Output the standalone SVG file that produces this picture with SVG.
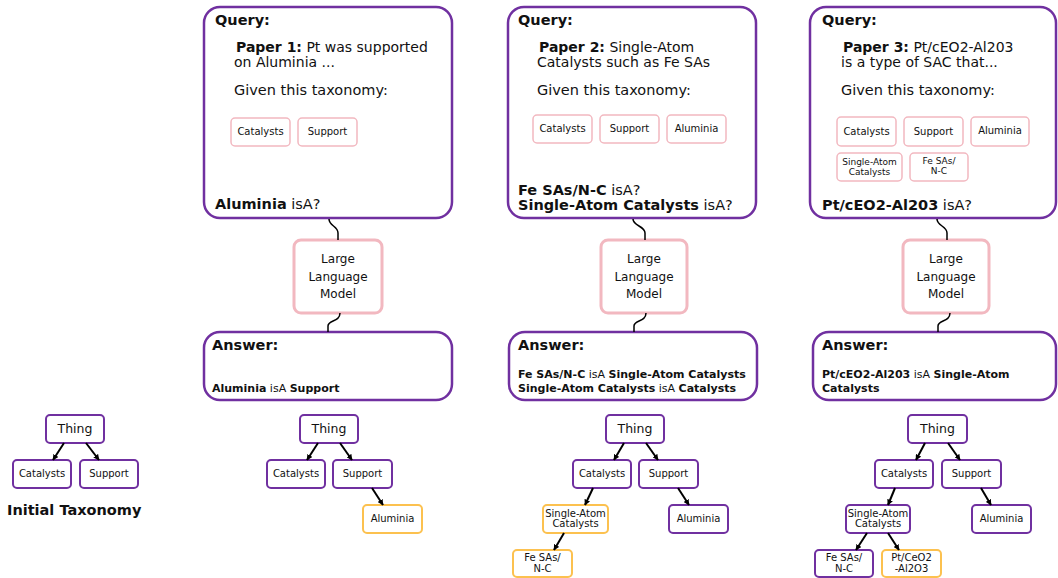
<svg xmlns="http://www.w3.org/2000/svg" width="1058" height="578" viewBox="0 0 1058 578">
<defs>
<marker id="ah" viewBox="0 0 10 10" refX="9" refY="5" markerWidth="6" markerHeight="6" orient="auto" markerUnits="userSpaceOnUse">
<path d="M0,0 L10,5 L0,10 z" fill="#000"/>
</marker>
<style>
text{font-family:"DejaVu Sans","Liberation Sans",sans-serif;fill:#111}
.big{fill:#fff;stroke:#7030a0;stroke-width:2.5}
.llm{fill:#fff;stroke:#f2b8c0;stroke-width:3}
.tag{fill:#fff;stroke:#f2b8c0;stroke-width:1.5}
.tn{fill:#fff;stroke:#7030a0;stroke-width:2}
.tnew{fill:#fff;stroke:#fcc14f;stroke-width:2}
.h{font-size:14.5px;font-weight:bold}
.q{font-size:14.5px}
.p{font-size:14px}
.b{font-weight:bold}
.ans{font-size:11px}
.t10{font-size:10px}
.t9{font-size:9px}
.th{font-size:12.5px}
.mid{text-anchor:middle}
.sq{fill:none;stroke:#000;stroke-width:1.5}
.ar{fill:none;stroke:#000;stroke-width:2;marker-end:url(#ah)}
</style>
</defs>

<!-- Initial taxonomy -->
<g id="init-thing"><rect class="tn" x="46" y="415" width="58" height="28" rx="4"/><text class="th mid" x="75" y="433">Thing</text></g>
<g id="init-catalysts"><rect class="tn" x="13" y="460" width="58" height="28" rx="4"/><text class="t10 mid" x="42" y="477">Catalysts</text></g>
<g id="init-support"><rect class="tn" x="80" y="460" width="58" height="28" rx="4"/><text class="t10 mid" x="109" y="477">Support</text></g>
<g id="init-label"><text class="h" x="7" y="515">Initial Taxonomy</text></g>

<!-- Panel 1 -->
<g id="p1-query">
<rect class="big" x="204" y="7" width="248" height="211" rx="16"/>
<text class="h" x="215" y="25">Query:</text>
<text class="p" x="236" y="52"><tspan class="b">Paper 1:</tspan> Pt was supported</text>
<text class="p" x="234" y="67">on Aluminia ...</text>
<text class="q" x="234" y="95">Given this taxonomy:</text>
<rect class="tag" x="231" y="118" width="59" height="28" rx="4"/><text class="t10 mid" x="260.5" y="135">Catalysts</text>
<rect class="tag" x="298" y="118" width="59" height="28" rx="4"/><text class="t10 mid" x="327.5" y="135">Support</text>
<text class="q" x="215" y="209"><tspan class="b">Aluminia</tspan> isA?</text>
</g>
<g id="p1-llm"><rect class="llm" x="294" y="240" width="88" height="73" rx="7"/>
<text class="mid" font-size="12" x="338" y="263">Large</text>
<text class="mid" font-size="12" x="338" y="281">Language</text>
<text class="mid" font-size="12" x="338" y="298">Model</text></g>
<g id="p1-answer">
<rect class="big" x="204" y="332" width="248" height="68" rx="16"/>
<text class="h" x="212" y="350">Answer:</text>
<text class="ans" x="212" y="392"><tspan class="b">Aluminia</tspan> isA <tspan class="b">Support</tspan></text>
</g>
<g id="p1-thing"><rect class="tn" x="300" y="415" width="58" height="28" rx="4"/><text class="th mid" x="329" y="433">Thing</text></g>
<g id="p1-catalysts"><rect class="tn" x="267" y="460" width="58" height="28" rx="4"/><text class="t10 mid" x="296" y="477">Catalysts</text></g>
<g id="p1-support"><rect class="tn" x="333" y="460" width="59" height="28" rx="4"/><text class="t10 mid" x="362.5" y="477">Support</text></g>
<g id="p1-aluminia"><rect class="tnew" x="363" y="505" width="59" height="28" rx="4"/><text class="t10 mid" x="392.5" y="522">Aluminia</text></g>

<!-- Panel 2 -->
<g id="p2-query">
<rect class="big" x="508" y="7" width="248" height="211" rx="16"/>
<text class="h" x="518" y="25">Query:</text>
<text class="p" x="539" y="52"><tspan class="b">Paper 2:</tspan> Single-Atom</text>
<text class="p" x="537" y="67">Catalysts such as Fe SAs</text>
<text class="q" x="537" y="95">Given this taxonomy:</text>
<rect class="tag" x="533" y="115" width="59" height="28" rx="4"/><text class="t10 mid" x="562.5" y="132">Catalysts</text>
<rect class="tag" x="600" y="115" width="59" height="28" rx="4"/><text class="t10 mid" x="629.5" y="132">Support</text>
<rect class="tag" x="667" y="115" width="59" height="28" rx="4"/><text class="t10 mid" x="696.5" y="132">Aluminia</text>
<text class="q" x="518" y="195"><tspan class="b">Fe SAs/N-C</tspan> isA?</text>
<text class="q" x="518" y="210"><tspan class="b">Single-Atom Catalysts</tspan> isA?</text>
</g>
<g id="p2-llm"><rect class="llm" x="601" y="240" width="86" height="73" rx="7"/>
<text class="mid" font-size="12" x="644" y="263">Large</text>
<text class="mid" font-size="12" x="644" y="281">Language</text>
<text class="mid" font-size="12" x="644" y="298">Model</text></g>
<g id="p2-answer">
<rect class="big" x="509" y="332" width="248" height="68" rx="16"/>
<text class="h" x="518" y="350">Answer:</text>
<text class="ans" x="518" y="378"><tspan class="b">Fe SAs/N-C</tspan> isA <tspan class="b">Single-Atom Catalysts</tspan></text>
<text class="ans" x="518" y="392"><tspan class="b">Single-Atom Catalysts</tspan> isA <tspan class="b">Catalysts</tspan></text>
</g>
<g id="p2-thing"><rect class="tn" x="606" y="415" width="58" height="28" rx="4"/><text class="th mid" x="635" y="433">Thing</text></g>
<g id="p2-catalysts"><rect class="tn" x="573" y="460" width="58" height="28" rx="4"/><text class="t10 mid" x="602" y="477">Catalysts</text></g>
<g id="p2-support"><rect class="tn" x="639" y="460" width="59" height="28" rx="4"/><text class="t10 mid" x="668.5" y="477">Support</text></g>
<g id="p2-sac"><rect class="tnew" x="543" y="505" width="65" height="28" rx="4"/><text class="t10 mid" x="575.5" y="517">Single-Atom</text><text class="t10 mid" x="575.5" y="527">Catalysts</text></g>
<g id="p2-aluminia"><rect class="tn" x="669" y="505" width="59" height="28" rx="4"/><text class="t10 mid" x="698.5" y="522">Aluminia</text></g>
<g id="p2-fesas"><rect class="tnew" x="513" y="550" width="59" height="27" rx="4"/><text class="t10 mid" x="542.5" y="561">Fe SAs/</text><text class="t10 mid" x="542.5" y="572">N-C</text></g>

<!-- Panel 3 -->
<g id="p3-query">
<rect class="big" x="810" y="7" width="246" height="211" rx="16"/>
<text class="h" x="822" y="25">Query:</text>
<text class="p" x="843" y="52"><tspan class="b">Paper 3:</tspan> Pt/cEO2-Al203</text>
<text class="p" x="841" y="67">is a type of SAC that...</text>
<text class="q" x="841" y="95">Given this taxonomy:</text>
<rect class="tag" x="837" y="117" width="59" height="29" rx="4"/><text class="t10 mid" x="866.5" y="135">Catalysts</text>
<rect class="tag" x="904" y="117" width="59" height="29" rx="4"/><text class="t10 mid" x="933.5" y="135">Support</text>
<rect class="tag" x="971" y="117" width="58" height="29" rx="4"/><text class="t10 mid" x="1000" y="134">Aluminia</text>
<rect class="tag" x="837" y="153" width="65" height="28" rx="4"/><text class="t9 mid" x="869.5" y="165">Single-Atom</text><text class="t9 mid" x="869.5" y="175">Catalysts</text>
<rect class="tag" x="910" y="153" width="58" height="28" rx="4"/><text class="t9 mid" x="939" y="164">Fe SAs/</text><text class="t9 mid" x="939" y="174">N-C</text>
<text class="q" x="822" y="210"><tspan class="b">Pt/cEO2-Al203</tspan> isA?</text>
</g>
<g id="p3-llm"><rect class="llm" x="903" y="240" width="86" height="73" rx="7"/>
<text class="mid" font-size="12" x="946" y="263">Large</text>
<text class="mid" font-size="12" x="946" y="281">Language</text>
<text class="mid" font-size="12" x="946" y="298">Model</text></g>
<g id="p3-answer">
<rect class="big" x="813" y="332" width="243" height="68" rx="16"/>
<text class="h" x="822" y="350">Answer:</text>
<text class="ans" x="822" y="378"><tspan class="b">Pt/cEO2-Al203</tspan> isA <tspan class="b">Single-Atom</tspan></text>
<text class="ans b" x="822" y="392">Catalysts</text>
</g>
<g id="p3-thing"><rect class="tn" x="908" y="415" width="59" height="28" rx="4"/><text class="th mid" x="937.5" y="433">Thing</text></g>
<g id="p3-catalysts"><rect class="tn" x="875" y="460" width="58" height="28" rx="4"/><text class="t10 mid" x="904" y="477">Catalysts</text></g>
<g id="p3-support"><rect class="tn" x="942" y="460" width="59" height="28" rx="4"/><text class="t10 mid" x="971.5" y="477">Support</text></g>
<g id="p3-sac"><rect class="tn" x="846" y="505" width="64" height="28" rx="4"/><text class="t10 mid" x="878" y="517">Single-Atom</text><text class="t10 mid" x="878" y="527">Catalysts</text></g>
<g id="p3-aluminia"><rect class="tn" x="972" y="505" width="59" height="28" rx="4"/><text class="t10 mid" x="1001.5" y="522">Aluminia</text></g>
<g id="p3-fesas"><rect class="tn" x="815" y="550" width="58" height="27" rx="4"/><text class="t10 mid" x="844" y="561">Fe SAs/</text><text class="t10 mid" x="844" y="572">N-C</text></g>
<g id="p3-pt"><rect class="tnew" x="882" y="550" width="59" height="27" rx="4"/><text class="t10 mid" x="911.5" y="561">Pt/CeO2</text><text class="t10 mid" x="911.5" y="572">-Al2O3</text></g>

<!-- Connectors -->
<g id="connectors">
<path class="sq" d="M329,219 C329,226 338,226 338,233 L338,240"/>
<path class="sq" d="M340,313 C340,322 328,320 328,326 L328,332"/>
<path class="sq" d="M633,219 C633,226 645,226 645,233 L645,240"/>
<path class="sq" d="M646,313 C646,322 634,320 634,326 L634,332"/>
<path class="sq" d="M937,219 C937,226 947,226 947,233 L947,240"/>
<path class="sq" d="M950,313 C950,322 938,320 938,326 L938,332"/>

<path class="ar" d="M64,443 L53,460"/>
<path class="ar" d="M86,443 L99,460"/>

<path class="ar" d="M318,443 L307,460"/>
<path class="ar" d="M340,443 L352,460"/>
<path class="ar" d="M372,488 L383,505"/>

<path class="ar" d="M624,443 L614,460"/>
<path class="ar" d="M646,443 L658,460"/>
<path class="ar" d="M593,488 L585,505"/>
<path class="ar" d="M678,488 L689,505"/>
<path class="ar" d="M564,533 L554,550"/>

<path class="ar" d="M925,443 L916,460"/>
<path class="ar" d="M948,443 L960,460"/>
<path class="ar" d="M895,488 L888,505"/>
<path class="ar" d="M981,488 L991,505"/>
<path class="ar" d="M867,533 L856,550"/>
<path class="ar" d="M888,533 L899,550"/>
</g>
</svg>
